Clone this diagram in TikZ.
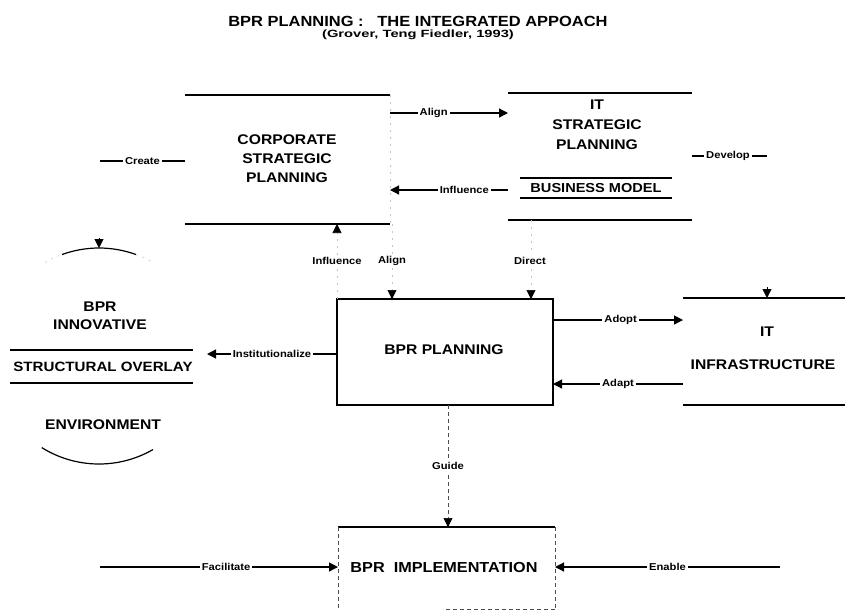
\documentclass[tikz,border=0pt]{standalone}
\usepackage{fontspec}
\setmainfont{Liberation Sans}[FakeStretch=1.12]
\usetikzlibrary{arrows.meta}
\begin{document}
\begin{tikzpicture}[x=1pt,y=-1pt,
  line/.style={line width=1.2pt},
  thickbox/.style={line width=2.6pt},
  tip/.style={-{Triangle[length=9pt,width=9pt,color=black,fill=black]}},
  arr/.style={line width=1.2pt,tip},
  faint/.style={gray!45,line width=0.6pt,dash pattern=on 2pt off 5pt},
  thindash/.style={black!70,line width=0.6pt,dash pattern=on 4pt off 3pt},
  lbl/.style={font=\fontsize{10}{11}\selectfont\bfseries,fill=white,text=black,inner sep=2pt},
  boxtxt/.style={font=\fontsize{14}{19}\selectfont\bfseries,align=center,inner sep=0pt},
  area/.style={inner sep=0pt,outer sep=0pt}
  ]
\useasboundingbox (0,0) rectangle (845,611);

% title
\node[font=\fontsize{14.7}{17}\selectfont\bfseries,anchor=base] (title) at (418,26) {BPR PLANNING :\ \ \ THE INTEGRATED APPOACH};
\node[font=\fontsize{10.5}{12}\selectfont\bfseries,anchor=base] (sub) at (418,37) {\scalebox{1.25}[1]{(Grover, Teng Fiedler, 1993)}};

% corporate strategic planning
\node[area,minimum width=205pt,minimum height=129pt] (corp) at (287.5,159.5) {};
\node[boxtxt] (corpt) at (287,159) {CORPORATE\\STRATEGIC\\PLANNING};
\draw[line] (corp.north west) -- (corp.north east);
\draw[line] (corp.south west) -- (corp.south east);
\draw[faint] (corp.north east) -- (corp.south east);

% IT strategic planning
\node[area,minimum width=184pt,minimum height=127pt] (itsp) at (600,156.5) {};
\node[boxtxt,font=\fontsize{14}{20}\selectfont\bfseries] (itspt) at (597,125) {IT\\STRATEGIC\\PLANNING};
\draw[line] (itsp.north west) -- (itsp.north east);
\draw[line] (itsp.south west) -- (itsp.south east);
\node[area,minimum width=152pt,minimum height=20pt] (bm) at (596,188) {};
\node[boxtxt,font=\fontsize{13}{15}\selectfont\bfseries] (bmt) at (596,188.5) {BUSINESS MODEL};
\draw[line] (bm.north west) -- (bm.north east);
\draw[line] (bm.south west) -- (bm.south east);

% BPR planning
\node[area,minimum width=216pt,minimum height=106pt] (bpr) at (445,352) {};
\draw[thickbox] (bpr.north west) rectangle (bpr.south east);
\node[boxtxt] (bprt) at (444,350) {BPR PLANNING};

% IT infrastructure
\node[area,minimum width=162pt,minimum height=107pt] (itinf) at (764,351.5) {};
\draw[line] (itinf.north west) -- (itinf.north east);
\draw[line] (itinf.south west) -- (itinf.south east);
\node[boxtxt] (itinft1) at (767,332) {IT};
\node[boxtxt] (itinft2) at (763,365) {INFRASTRUCTURE};
\coordinate (itm) at (767,287);
\draw[tip] (itm) -- (itm |- itinf.north);

% BPR innovative environment
\node[circle,area,minimum size=216pt] (inno) at (99,356) {};
\draw[line] (inno.center) ++(250:108) arc[start angle=250,end angle=290,radius=108];
\draw[faint] (inno.center) ++(240:108) arc[start angle=240,end angle=250,radius=108];
\draw[faint] (inno.center) ++(290:108) arc[start angle=290,end angle=300,radius=108];
\draw[line] (inno.center) ++(60:108) arc[start angle=60,end angle=122,radius=108];
\coordinate (innom) at (99,238);
\draw[tip] (innom) -- (inno.north);
\node[boxtxt,font=\fontsize{14}{18}\selectfont\bfseries] (innot) at (100,316) {BPR\\INNOVATIVE};
\node[area,minimum width=183pt,minimum height=33pt] (so) at (101.5,366.5) {};
\draw[line] (so.north west) -- (so.north east);
\draw[line] (so.south west) -- (so.south east);
\node[boxtxt,font=\fontsize{13.5}{15}\selectfont\bfseries] (sot) at (103,367) {STRUCTURAL OVERLAY};
\node[boxtxt] (envt) at (103,425) {ENVIRONMENT};

% BPR implementation
\node[area,minimum width=217pt,minimum height=82pt] (impl) at (446.5,568) {};
\draw[line] (impl.north west) -- (impl.north east);
\draw[thindash] (impl.north west) -- (impl.south west);
\draw[thindash] (impl.north east) -- (impl.south east);
\draw[thindash] (impl.south east) -- ++(-112,0);
\node[boxtxt,font=\fontsize{14.5}{17}\selectfont\bfseries] (implt) at (444,567) {BPR\ \ IMPLEMENTATION};

% connectors between top boxes
\draw[arr] (corp.east |- 0,113) -- node[lbl,pos=0.37] (lalign1) {Align} (itsp.west |- 0,113);
\draw[arr] (itsp.west |- 0,190) -- node[lbl,pos=0.37] (linfl1) {Influence} (corp.east |- 0,190);

% create / develop
\coordinate (createend) at (100,161);
\draw[line] (createend) -- node[lbl,pos=0.5] (lcreate) {Create} (corp.west |- createend);
\coordinate (devend) at (767,156);
\draw[line] (itsp.east |- devend) -- node[lbl,pos=0.48] (ldev) {Develop} (devend);

% vertical connectors to BPR planning
\node[lbl] (linfl2) at (337,261) {Influence};
\node[lbl] (lalign2) at (392,261) {Align};
\node[lbl] (ldirect) at (530,261) {Direct};
\draw[faint] (bpr.north west -| linfl2) -- (linfl2.south);
\draw[faint,tip] (linfl2.north) -- (corp.south -| linfl2);
\draw[faint] (corp.south -| lalign2) -- (lalign2.north);
\draw[faint,tip] (lalign2.south) -- (bpr.north -| lalign2);
\draw[faint] (itsp.south -| 531,0) -- (531,253);
\draw[faint,tip] (531,269) -- (bpr.north -| 531,0);

% BPR planning side connectors
\draw[arr] (bpr.east |- 0,320) -- node[lbl,pos=0.52] (ladopt) {Adopt} (itinf.west |- 0,320);
\draw[arr] (itinf.west |- 0,384) -- node[lbl,pos=0.5] (ladapt) {Adapt} (bpr.east |- 0,384);
\draw[arr] (bpr.west |- 0,354) -- node[lbl,pos=0.5] (linst) {Institutionalize} (inno.east |- 0,354);

% guide
\draw[thindash,tip] (bpr.south -| 448,0) -- node[lbl,pos=0.5] (lguide) {Guide} (impl.north -| 448,0);

% facilitate / enable
\coordinate (facend) at (100,567);
\draw[arr] (facend) -- node[lbl,pos=0.53] (lfac) {Facilitate} (impl.west |- facend);
\coordinate (enend) at (780,567);
\draw[arr] (enend) -- node[lbl,pos=0.5] (lenable) {Enable} (impl.east |- enend);
\end{tikzpicture}
\end{document}
